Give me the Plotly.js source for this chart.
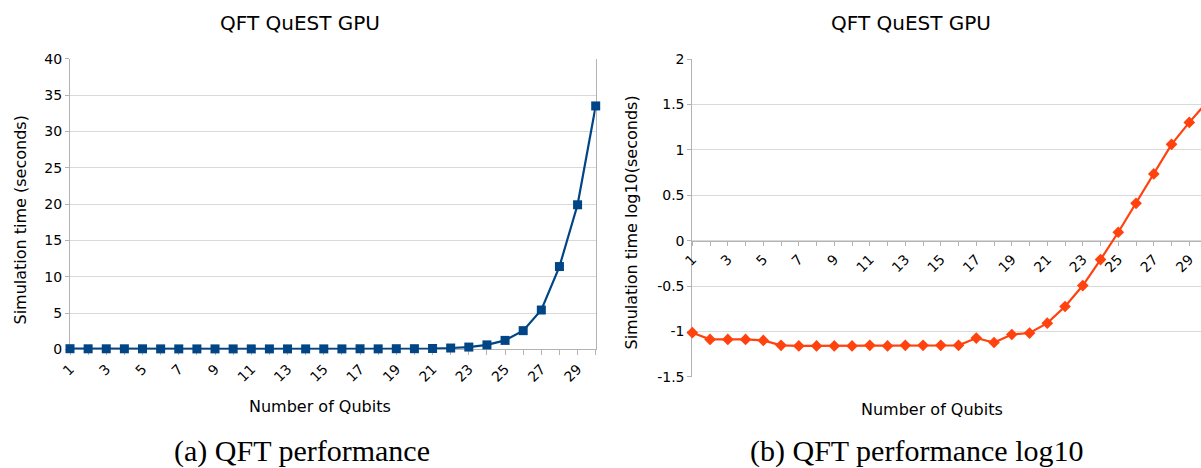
<!DOCTYPE html>
<html>
<head>
<meta charset="utf-8">
<script src="https://cdn.plot.ly/plotly-3.0.1.min.js"></script>
<style>
  html, body { margin: 0; padding: 0; background: #ffffff; overflow: hidden; }
  #chart { width: 1201px; height: 468px; }
</style>
</head>
<body>
<div id="chart"></div>
<script>
// Number of qubits simulated
const qubits = [1, 2, 3, 4, 5, 6, 7, 8, 9, 10, 11, 12, 13, 14, 15,
                16, 17, 18, 19, 20, 21, 22, 23, 24, 25, 26, 27, 28, 29, 30];

// Only odd qubit counts are labelled on the x axes
const qubitTickLabels = ['1', '', '3', '', '5', '', '7', '', '9', '', '11', '', '13', '', '15',
                         '', '17', '', '19', '', '21', '', '23', '', '25', '', '27', '', '29', ''];

// QFT simulation time on the GPU, in seconds
const timeSeconds = [0.097, 0.082, 0.082, 0.082, 0.080, 0.070, 0.069, 0.069, 0.069, 0.069,
                     0.070, 0.069, 0.070, 0.070, 0.070, 0.070, 0.085, 0.075, 0.093, 0.096,
                     0.123, 0.19, 0.32, 0.62, 1.24, 2.58, 5.42, 11.4, 19.9, 33.5];

// Same timings on a log10 scale
const timeLog10 = [-1.014, -1.088, -1.088, -1.088, -1.099, -1.153, -1.16, -1.16, -1.16, -1.16,
                   -1.153, -1.16, -1.153, -1.153, -1.153, -1.153, -1.073, -1.122, -1.034, -1.018,
                   -0.909, -0.726, -0.495, -0.209, 0.092, 0.411, 0.734, 1.06, 1.302, 1.525];

// Log-scale y ticks (plain hyphen for negatives)
const logTickValues = [-1.5, -1, -0.5, 0, 0.5, 1, 1.5, 2];
const logTickLabels = ['-1.5', '-1', '-0.5', '0', '0.5', '1', '1.5', '2'];

const W = 1201, H = 468;
const fx = p => p / W;          // pixel column -> paper fraction
const fy = p => 1 - p / H;      // pixel row -> paper fraction

const AXIS = '#b3b3b3';
const GRID = '#d9d9d9';
const SANS = 'DejaVu Sans';
const SERIF = 'Liberation Serif';

const traces = [
  {
    x: qubits, y: timeSeconds, xaxis: 'x', yaxis: 'y',
    type: 'scatter', mode: 'lines+markers', cliponaxis: false,
    line: { color: '#004586', width: 2.2 },
    marker: { symbol: 'square', size: 9, color: '#004586' },
    hoverinfo: 'x+y'
  },
  {
    x: qubits, y: timeLog10, xaxis: 'x2', yaxis: 'y2',
    type: 'scatter', mode: 'lines+markers', cliponaxis: false,
    line: { color: '#ff420e', width: 2.2 },
    marker: { symbol: 'diamond', size: 9, color: '#ff420e' },
    hoverinfo: 'x+y'
  }
];

function label(text, xpx, ypx, size, family, angle) {
  return {
    text: text, xref: 'paper', yref: 'paper', x: fx(xpx), y: fy(ypx),
    xanchor: 'center', yanchor: 'middle', showarrow: false,
    textangle: angle || 0, font: { family: family, size: size, color: '#000' }
  };
}

const layout = {
  width: W, height: H,
  margin: { l: 0, r: 0, t: 0, b: 0, pad: 0 },
  paper_bgcolor: '#ffffff', plot_bgcolor: '#ffffff',
  showlegend: false,
  font: { family: SANS, size: 14, color: '#000' },

  xaxis: {
    domain: [fx(70), fx(595.7)], range: [1, 30], anchor: 'y',
    tickmode: 'array', tickvals: qubits, ticktext: qubitTickLabels, tickangle: -45,
    ticks: 'outside', ticklen: 5, tickcolor: AXIS,
    showline: true, linecolor: AXIS, linewidth: 1,
    showgrid: false, zeroline: false, layer: 'below traces',
    tickfont: { family: SANS, size: 14, color: '#000' }
  },
  yaxis: {
    domain: [fy(349.4), fy(58.7)], range: [0, 40], anchor: 'x',
    tick0: 0, dtick: 5,
    ticks: 'outside', ticklen: 4, tickcolor: AXIS,
    showline: true, mirror: true, linecolor: AXIS, linewidth: 1,
    showgrid: true, gridcolor: GRID, gridwidth: 1, zeroline: false, layer: 'below traces',
    tickfont: { family: SANS, size: 14, color: '#000' }
  },

  xaxis2: {
    domain: [fx(692.3), 1], range: [1, 29.66], anchor: 'free', position: fy(240.8),
    tickmode: 'array', tickvals: qubits, ticktext: qubitTickLabels, tickangle: -45,
    ticks: 'outside', ticklen: 4, tickcolor: AXIS,
    showline: true, linecolor: AXIS, linewidth: 1,
    showgrid: false, zeroline: false, layer: 'below traces',
    tickfont: { family: SANS, size: 14, color: '#000' }
  },
  yaxis2: {
    domain: [fy(376.8), fy(59)], range: [-1.5, 2], anchor: 'x2',
    tickmode: 'array', tickvals: logTickValues, ticktext: logTickLabels,
    ticks: 'outside', ticklen: 4, tickcolor: AXIS,
    showline: true, linecolor: AXIS, linewidth: 1,
    showgrid: true, gridcolor: GRID, gridwidth: 1, zeroline: false, layer: 'below traces',
    tickfont: { family: SANS, size: 14, color: '#000' }
  },

  annotations: [
    label('QFT QuEST GPU', 300, 23, 20, SANS),
    label('QFT QuEST GPU', 911, 23, 20, SANS),
    label('Number of Qubits', 320, 406, 16, SANS),
    label('Number of Qubits', 932, 409, 16, SANS),
    label('Simulation time (seconds)', 19.5, 220, 16, SANS, -90),
    label('Simulation time log10(seconds)', 631, 222.5, 16, SANS, -90),
    label('(a) QFT performance', 302, 450.5, 30, SERIF),
    label('(b) QFT performance log10', 917, 450.5, 30, SERIF)
  ]
};

Plotly.newPlot('chart', traces, layout, { displayModeBar: false, staticPlot: true });
</script>
</body>
</html>
